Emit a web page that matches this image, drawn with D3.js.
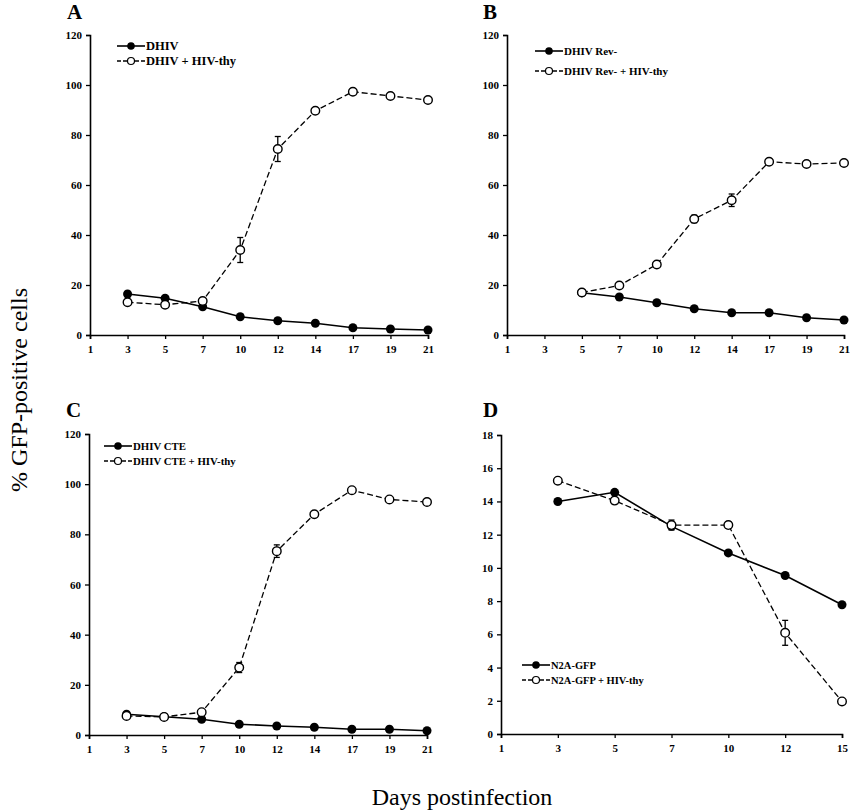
<!DOCTYPE html>
<html>
<head>
<meta charset="utf-8">
<script src="https://cdn.jsdelivr.net/npm/d3@7"></script>
<style>
  body { margin: 0; background: #fff; }
  text { font-family: "Liberation Serif", "DejaVu Serif", serif; }
</style>
</head>
<body>
<div id="chart"></div>
<script>
// x categories (days postinfection), equally spaced on the axis
const daysLong = ["1", "3", "5", "7", "10", "12", "14", "17", "19", "21"];
const daysShort = ["1", "3", "5", "7", "10", "12", "15"];

// panel A
const aDays = ["3", "5", "7", "10", "12", "14", "17", "19", "21"];
const aDhiv = [16.4, 14.7, 11.3, 7.3, 5.7, 4.7, 2.9, 2.4, 2.0];
const aDhivThy = [13.1, 12.1, 13.6, 34.0, 74.4, 89.7, 97.3, 95.6, 94.0];
const aDhivThyErr = [null, null, null, 5.0, 5.0, null, null, null, null];

// panel B
const bDays = ["5", "7", "10", "12", "14", "17", "19", "21"];
const bRev = [16.9, 15.2, 12.9, 10.5, 8.9, 8.9, 6.9, 6.0];
const bRevThy = [17.0, 19.8, 28.2, 46.4, 53.9, 69.3, 68.4, 68.8];
const bRevThyErr = [null, null, null, 1.5, 2.5, null, null, null];

// panel C
const cDays = ["3", "5", "7", "10", "12", "14", "17", "19", "21"];
const cCte = [8.3, 7.3, 6.3, 4.3, 3.6, 3.1, 2.3, 2.3, 1.7];
const cCteThy = [7.6, 7.2, 9.1, 26.9, 73.3, 88.0, 97.6, 93.9, 92.9];
const cCteThyErr = [null, null, null, 2.0, 2.5, null, null, null, null];

// panel D
const dDays = ["3", "5", "7", "10", "12", "15"];
const dN2a = [14.0, 14.55, 12.5, 10.9, 9.54, 7.78];
const dN2aThy = [15.25, 14.05, 12.58, 12.58, 6.09, 1.96];
const dN2aThyErr = [null, null, 0.3, 0.2, 0.75, null];

const yTicksPct = [0, 20, 40, 60, 80, 100, 120];
const yTicksD = [0, 2, 4, 6, 8, 10, 12, 14, 16, 18];

const width = 850;
const height = 812;

const svg = d3.select("#chart")
  .append("svg")
  .attr("width", width)
  .attr("height", height);

// panel layouts
const panels = [
  {
    letter: "A", lx: 67, ly: 19,
    x0: 90, x1: 428, yTop: 35, yBot: 335,
    cats: daysLong, yMax: 120, yTicks: yTicksPct,
    days: aDays, filled: aDhiv, open: aDhivThy, err: aDhivThyErr,
    names: ["DHIV", "DHIV + HIV-thy"], legX: 117, legY: 46, legGap: 15, legFont: 12.5
  },
  {
    letter: "B", lx: 483, ly: 19,
    x0: 507, x1: 844, yTop: 35, yBot: 335,
    cats: daysLong, yMax: 120, yTicks: yTicksPct,
    days: bDays, filled: bRev, open: bRevThy, err: bRevThyErr,
    names: ["DHIV Rev-", "DHIV Rev- + HIV-thy"], legX: 535, legY: 51, legGap: 20, legFont: 11
  },
  {
    letter: "C", lx: 66, ly: 417,
    x0: 89, x1: 427, yTop: 434, yBot: 735,
    cats: daysLong, yMax: 120, yTicks: yTicksPct,
    days: cDays, filled: cCte, open: cCteThy, err: cCteThyErr,
    names: ["DHIV CTE", "DHIV CTE + HIV-thy"], legX: 104, legY: 446, legGap: 15, legFont: 10.8
  },
  {
    letter: "D", lx: 483, ly: 417,
    x0: 501, x1: 842, yTop: 435, yBot: 734,
    cats: daysShort, yMax: 18, yTicks: yTicksD,
    days: dDays, filled: dN2a, open: dN2aThy, err: dN2aThyErr,
    names: ["N2A-GFP", "N2A-GFP + HIV-thy"], legX: 522, legY: 665, legGap: 15, legFont: 10.5
  }
];

panels.forEach(drawPanel);

function drawPanel(p) {
  const g = svg.append("g");

  const x = d3.scalePoint().domain(p.cats).range([p.x0, p.x1]);
  const y = d3.scaleLinear().domain([0, p.yMax]).range([p.yBot, p.yTop]);

  // panel letter
  g.append("text")
    .attr("x", p.lx)
    .attr("y", p.ly)
    .attr("font-size", 21)
    .attr("font-weight", "bold")
    .text(p.letter);

  // axes
  const yAxis = g.append("g")
    .attr("transform", `translate(${p.x0},0)`)
    .call(d3.axisLeft(y).tickValues(p.yTicks).tickSize(4).tickPadding(4));
  const xAxis = g.append("g")
    .attr("transform", `translate(0,${p.yBot})`)
    .call(d3.axisBottom(x).tickSize(4).tickPadding(6));

  [yAxis, xAxis].forEach((ax) => {
    ax.select(".domain").attr("stroke", "#000").attr("stroke-width", 1.6);
    ax.selectAll(".tick line").attr("stroke", "#000").attr("stroke-width", 1.3);
    ax.selectAll(".tick text")
      .attr("font-family", "Liberation Serif, serif")
      .attr("font-size", 11)
      .attr("font-weight", "bold")
      .attr("fill", "#000");
  });

  const filledPts = p.days.map((d, i) => ({ day: d, v: p.filled[i] }));
  const openPts = p.days.map((d, i) => ({ day: d, v: p.open[i], e: p.err[i] }));

  const line = d3.line().x((d) => x(d.day)).y((d) => y(d.v));

  // solid line, filled markers
  g.append("path")
    .datum(filledPts)
    .attr("d", line)
    .attr("fill", "none")
    .attr("stroke", "#000")
    .attr("stroke-width", 1.6);

  // dashed line, open markers
  g.append("path")
    .datum(openPts)
    .attr("d", line)
    .attr("fill", "none")
    .attr("stroke", "#000")
    .attr("stroke-width", 1.3)
    .attr("stroke-dasharray", "6,3");

  // error bars
  const errPts = openPts.filter((d) => d.e != null);
  const eb = g.selectAll("g.err").data(errPts).enter().append("g");
  eb.append("line")
    .attr("x1", (d) => x(d.day)).attr("x2", (d) => x(d.day))
    .attr("y1", (d) => y(d.v - d.e)).attr("y2", (d) => y(d.v + d.e))
    .attr("stroke", "#000").attr("stroke-width", 1.3);
  [-1, 1].forEach((s) => {
    eb.append("line")
      .attr("x1", (d) => x(d.day) - 3).attr("x2", (d) => x(d.day) + 3)
      .attr("y1", (d) => y(d.v + s * d.e)).attr("y2", (d) => y(d.v + s * d.e))
      .attr("stroke", "#000").attr("stroke-width", 1.3);
  });

  g.selectAll("circle.filled")
    .data(filledPts)
    .enter()
    .append("circle")
    .attr("class", "filled")
    .attr("cx", (d) => x(d.day))
    .attr("cy", (d) => y(d.v))
    .attr("r", 4.5)
    .attr("fill", "#000");

  g.selectAll("circle.open")
    .data(openPts)
    .enter()
    .append("circle")
    .attr("class", "open")
    .attr("cx", (d) => x(d.day))
    .attr("cy", (d) => y(d.v))
    .attr("r", 4.3)
    .attr("fill", "#fff")
    .attr("stroke", "#000")
    .attr("stroke-width", 1.4);

  // legend
  const legLen = 28;
  p.names.forEach((name, i) => {
    const ly = p.legY + i * p.legGap;
    g.append("line")
      .attr("x1", p.legX).attr("x2", p.legX + legLen)
      .attr("y1", ly).attr("y2", ly)
      .attr("stroke", "#000")
      .attr("stroke-width", i === 0 ? 1.6 : 1.3)
      .attr("stroke-dasharray", i === 0 ? null : "4,2");
    g.append("circle")
      .attr("cx", p.legX + legLen / 2).attr("cy", ly)
      .attr("r", i === 0 ? 3.8 : 3.5)
      .attr("fill", i === 0 ? "#000" : "#fff")
      .attr("stroke", "#000")
      .attr("stroke-width", i === 0 ? 0 : 1.2);
    g.append("text")
      .attr("x", p.legX + legLen + 1)
      .attr("y", ly + 4)
      .attr("font-size", p.legFont)
      .attr("font-weight", "bold")
      .text(name);
  });
}

// shared axis titles
svg.append("text")
  .attr("transform", "translate(27,390) rotate(-90)")
  .attr("text-anchor", "middle")
  .attr("font-size", 24)
  .text("% GFP-positive cells");

svg.append("text")
  .attr("x", 462)
  .attr("y", 805)
  .attr("text-anchor", "middle")
  .attr("font-size", 24)
  .text("Days postinfection");
</script>
</body>
</html>
